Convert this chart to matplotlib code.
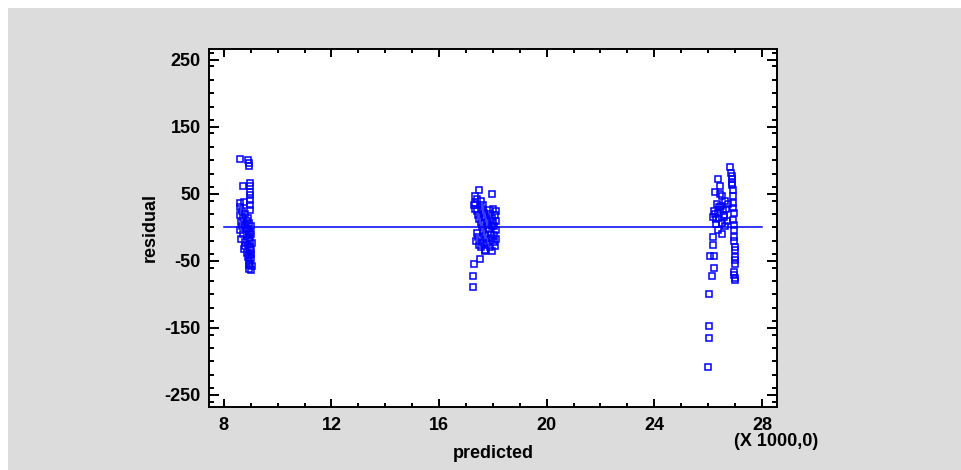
"""
Residual vs predicted plot
"""

import matplotlib
matplotlib.use("Agg")
import matplotlib.pyplot as plt
from matplotlib.patches import Rectangle
from matplotlib.ticker import MultipleLocator

plt.rcParams["font.family"] = ["Liberation Sans", "DejaVu Sans"]
plt.rcParams["font.weight"] = "bold"
plt.rcParams["axes.unicode_minus"] = False

# predicted values are in thousands (X 1000,0)
pred_a = [8.60, 8.89, 8.92, 8.93, 8.73, 8.97, 8.97, 8.97, 8.97, 8.97, 8.97, 8.97,
          8.59, 8.74, 8.62, 8.68, 8.60, 8.70, 8.64, 8.80, 8.85, 8.66, 8.62, 8.78,
          8.90, 8.95, 9.00, 8.88, 8.94, 9.00, 8.85, 8.92, 8.99, 8.70, 8.65, 8.80,
          8.90, 8.97, 9.02, 8.75, 8.86, 8.95, 9.01, 8.92, 8.98, 9.03, 8.95, 9.00,
          8.90, 8.80, 9.02, 8.96, 9.04, 8.93]
resid_a = [102, 100, 96, 92, 62, 66, 61, 53, 48, 41, 34, 26,
           36, 38, 30, 24, 18, 14, 8, 20, 10, 2, -4, 4,
           14, 6, 2, -2, -6, -10, -12, -16, -20, -10, -18, -22,
           -26, -30, -34, -32, -38, -42, -46, -50, -54, -58, -62, -64,
           -44, -28, -40, -8, -24, -56]

pred_b = [17.49, 17.95, 17.35, 17.42, 17.33, 17.30, 17.35, 17.40, 17.55, 17.62, 17.58,
          17.45, 17.50, 17.55, 17.60, 17.65, 17.70, 17.75, 17.80, 17.85, 17.90, 17.95,
          18.00, 18.05, 18.10, 17.92, 17.98, 18.04, 18.08, 17.88, 17.68, 17.72, 17.78,
          17.82, 17.86, 17.40, 17.44, 17.38, 17.48, 17.55, 17.62, 17.70, 17.95, 18.02,
          18.08, 18.12, 18.10, 18.06, 17.97, 18.12, 17.72, 17.52, 17.30, 17.28, 17.28]
resid_b = [56, 49, 47, 42, 37, 33, 28, 24, 40, 34, 28,
           18, 12, 6, 0, -6, -12, -18, -24, 26, 20, 14,
           8, 2, -4, -10, -16, -22, -28, -30, 22, 16, 10,
           4, -2, -8, -14, -20, -26, -30, -24, -34, -36, 28,
           18, 10, 24, -12, 2, -18, -36, -47, -55, -73, -89]

pred_c = [26.81, 26.86, 26.87, 26.90, 26.88, 26.88, 26.93, 26.92, 26.93, 26.92, 26.95,
          26.93, 26.97, 26.97, 26.97, 26.98, 26.99, 27.00, 27.00, 27.00, 27.00, 26.97,
          26.97, 26.99, 27.00,
          26.37, 26.43, 26.25, 26.45, 26.50, 26.20, 26.25, 26.18, 26.30, 26.35, 26.40,
          26.34, 26.48, 26.55, 26.58, 26.60, 26.42, 26.28, 26.50, 26.36, 26.52, 26.64,
          26.68, 26.72, 26.75, 26.62, 26.19, 26.18, 26.08, 26.20, 26.22, 26.16, 26.05,
          26.02, 26.02, 26.00]
resid_c = [90, 81, 77, 72, 66, 63, 56, 46, 36, 29, 21,
           11, 4, -4, -14, -21, -29, -34, -44, -49, -54, -66,
           -71, -75, -79,
           72, 61, 53, 50, 46, 25, 20, 15, 13, 22, 30,
           35, 32, 26, 16, 19, 14, 5, 6, -4, -10, 40,
           28, 10, 35, 2, -15, -26, -43, -43, -61, -72, -100,
           -147, -165, -209]

pred_range = [8.0, 28.0]

BLUE = "#0000ff"

fig = plt.figure(figsize=(9.62, 4.70), dpi=100)
fig.patch.set_facecolor("white")
fig.patches.append(Rectangle((8 / 962, 0), 1, 1 - 8 / 470, transform=fig.transFigure,
                             facecolor="#dcdcdc", edgecolor="none", zorder=-10))

ax = fig.add_axes([209 / 962, 1 - 407 / 470, (777 - 209) / 962, (407 - 49) / 470])
ax.set_facecolor("white")

for px, ry in [(pred_a, resid_a), (pred_b, resid_b), (pred_c, resid_c)]:
    ax.plot(px, ry, ls="none", marker="s", ms=5, mfc="none", mec=BLUE, mew=1.1)

ax.plot(pred_range, [0, 0], color=BLUE, lw=1.1)

ax.set_xlim(7.45, 28.56)
ax.set_ylim(-268, 266)
ax.xaxis.set_major_locator(MultipleLocator(4))
ax.xaxis.set_minor_locator(MultipleLocator(1))
ax.set_yticks([-250, -150, -50, 50, 150, 250])
ax.yaxis.set_minor_locator(MultipleLocator(20))

for s in ax.spines.values():
    s.set_linewidth(1.4)

ax.tick_params(axis="both", which="both", direction="in", top=True, right=True,
               labelsize=13, width=1.4)
ax.tick_params(axis="y", which="major", length=7.5, pad=6)
ax.tick_params(axis="y", which="minor", length=3.5)
ax.tick_params(axis="x", which="major", length=5.5, pad=7)
ax.tick_params(axis="x", which="minor", length=3)
for lab in ax.get_xticklabels() + ax.get_yticklabels():
    lab.set_fontweight("bold")

ax.set_xlabel("predicted", fontsize=13, fontweight="bold", labelpad=8)
ax.set_ylabel("residual", fontsize=13, fontweight="bold", labelpad=4)

fig.text(776 / 962, 1 - 442 / 470, "(X 1000,0)", ha="center", va="center",
         fontsize=13, fontweight="bold")

fig.savefig("out.png", dpi=100)
plt.close(fig)
